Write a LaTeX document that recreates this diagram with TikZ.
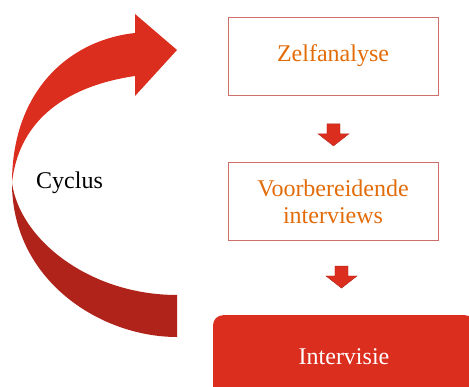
\documentclass[tikz,border=0pt]{standalone}
\usepackage{fontspec}
\setmainfont{Liberation Serif}
\usetikzlibrary{positioning, shapes.arrows, calc}

\definecolor{cycred}{HTML}{DC2E1F}
\definecolor{cycdark}{HTML}{B0231A}
\definecolor{boxline}{HTML}{CD6F6B}
\definecolor{steptext}{HTML}{E36C0A}

\begin{document}
\begin{tikzpicture}[
    x=1pt, y=1pt,
    node distance=67pt,
    stap/.style = {rectangle, draw=boxline, line width=0.7pt, fill=white, minimum width=210pt, minimum height=78pt, align=center, text=steptext, font=\fontsize{24}{27}\selectfont},
    eind/.style = {rectangle, fill=cycred, rounded corners=10pt, minimum width=262pt, minimum height=82pt, text=white, font=\fontsize{24}{27}\selectfont},
    pijl/.style = {single arrow, rotate=-90, fill=cycred, draw=cycdark, line width=0.4pt, inner sep=5pt, minimum width=31pt, minimum height=22pt, single arrow tip angle=104}
]
    \clip (0,0) rectangle (469,387);

    % steps
    \node [stap] (zelf) at (333,331) {Zelfanalyse};
    \node [stap, below=of zelf] (voorb) {Voorbereidende\\interviews};
    \node [eind, below=74pt of voorb, xshift=11pt] (inter) {Intervisie};
    \node [pijl] (pijl1) at ($(zelf.south)+(0.5,-37)$) {};
    \node [pijl] (pijl2) at ($(voorb.south)+(8.5,-33.5)$) {};

    % big curved arrow
    \fill [cycdark] (12,204) .. controls (12,107) and (100,50) .. (177,50)
        -- (177,92) .. controls (90,92) and (20,147) .. (12,204) -- cycle;
    \fill [cycred] (12,204) .. controls (12,297) and (70,347) .. (135,354)
        -- (135,373) -- (177,337) -- (135,291) -- (135,311)
        .. controls (60,300) and (18,262) .. (12,204) -- cycle;
    \node [font=\fontsize{24}{27}\selectfont] (cyclus) at (69.5,204) {Cyclus};
\end{tikzpicture}
\end{document}
